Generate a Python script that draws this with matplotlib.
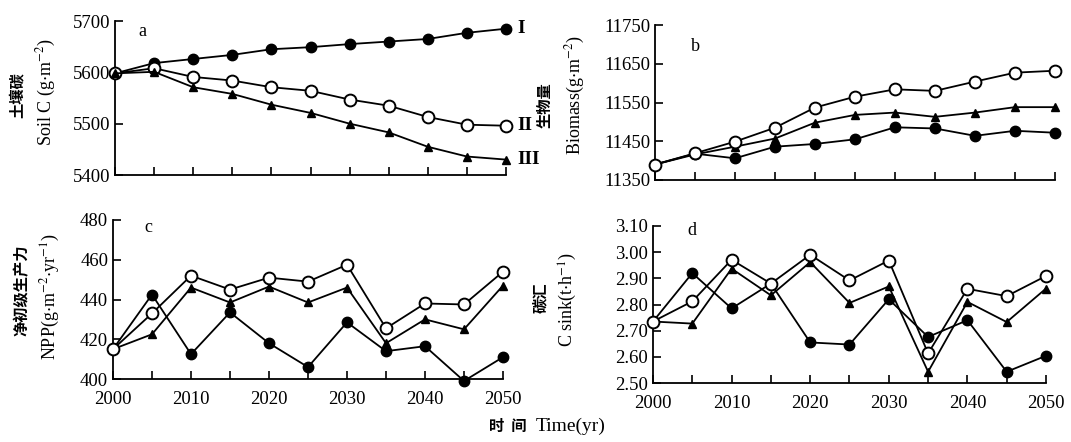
import matplotlib
matplotlib.use("Agg")
import matplotlib.pyplot as plt
from matplotlib.ticker import MultipleLocator, FormatStrFormatter

plt.rcParams['font.family'] = ['Liberation Serif', 'Noto Sans CJK SC']
plt.rcParams['mathtext.fontset'] = 'stix'

years = [2000, 2005, 2010, 2015, 2020, 2025, 2030, 2035, 2040, 2045, 2050]

# a: soil carbon (g m-2)
soil_I = [5598, 5618, 5626, 5634, 5645, 5649, 5655, 5660, 5665, 5677, 5685]
soil_II = [5598, 5608, 5591, 5584, 5571, 5564, 5547, 5535, 5513, 5498, 5496]
soil_III = [5598, 5601, 5571, 5558, 5537, 5521, 5500, 5483, 5455, 5436, 5430]

# b: biomass (g m-2)
bio_filled = [11390, 11418, 11406, 11436, 11443, 11455, 11486, 11483, 11464, 11477, 11472]
bio_open = [11390, 11419, 11449, 11485, 11537, 11565, 11584, 11580, 11604, 11627, 11632]
bio_tri = [11390, 11416, 11436, 11457, 11498, 11518, 11524, 11513, 11524, 11538, 11538]

# c: NPP (g m-2 yr-1)
npp_filled = [415, 442.5, 412.5, 433.5, 418, 406, 428.5, 414, 416.5, 399, 411]
npp_open = [415, 433, 452, 445, 451, 449, 457.5, 425.5, 438, 437.5, 454]
npp_tri = [415, 422.5, 446, 438.5, 446.5, 438.5, 446, 418, 430, 425, 447]

# d: carbon sink (t h-1)
sink_filled = [2.735, 2.92, 2.785, 2.88, 2.655, 2.647, 2.82, 2.676, 2.74, 2.543, 2.604]
sink_open = [2.735, 2.812, 2.971, 2.88, 2.99, 2.892, 2.968, 2.613, 2.86, 2.832, 2.909]
sink_tri = [2.735, 2.727, 2.937, 2.835, 2.962, 2.806, 2.869, 2.543, 2.81, 2.733, 2.861]

W, H = 1071, 442
fig = plt.figure(figsize=(W / 100, H / 100), dpi=100)


def add_ax(l, r, t, b):
    return fig.add_axes([l / W, 1 - b / H, (r - l) / W, (b - t) / H])


def style(ax, ylim, ystep, yoffset, fmt, xlabels):
    ax.set_xlim(2000, 2050)
    ax.set_ylim(*ylim)
    for s in ['top', 'right']:
        ax.spines[s].set_visible(False)
    for s in ['left', 'bottom']:
        ax.spines[s].set_linewidth(1.3)
    ax.xaxis.set_major_locator(MultipleLocator(10))
    ax.xaxis.set_minor_locator(MultipleLocator(5))
    ax.yaxis.set_major_locator(MultipleLocator(ystep, offset=yoffset))
    ax.yaxis.set_major_formatter(FormatStrFormatter(fmt))
    ax.tick_params(which='both', direction='in', width=1.2, labelsize=13.5)
    ax.tick_params(which='both', length=6)
    ax.tick_params(axis='x', pad=9)
    ax.tick_params(axis='y', which='minor', left=False)
    if not xlabels:
        ax.tick_params(axis='x', labelbottom=False)


def draw(ax, vals, kind):
    if kind == 'filled':
        ax.plot(years, vals, '-o', color='black', ms=7.5, lw=1.3, clip_on=False, zorder=3)
    elif kind == 'open':
        ax.plot(years, vals, '-o', color='black', mfc='white', mec='black', mew=1.4,
                ms=8.5, lw=1.3, clip_on=False, zorder=3)
    else:
        ax.plot(years, vals, '-^', color='black', ms=6, lw=1.3, clip_on=False, zorder=3)


ax_a = add_ax(115, 506, 21, 175)
ax_b = add_ax(655, 1055, 25, 180)
ax_c = add_ax(113, 503, 220, 379)
ax_d = add_ax(653, 1046, 226, 383)

style(ax_a, (5400, 5700), 100, 0, '%d', False)
style(ax_b, (11350, 11750), 100, 50, '%d', False)
style(ax_c, (400, 480), 20, 0, '%d', True)
style(ax_d, (2.50, 3.10), 0.10, 0, '%.2f', True)

draw(ax_a, soil_I, 'filled')
draw(ax_a, soil_II, 'open')
draw(ax_a, soil_III, 'tri')
for vals, lab in [(soil_I, 'I'), (soil_II, 'II'), (soil_III, 'III')]:
    ax_a.annotate(lab, xy=(years[-1], vals[-1]), xytext=(8, 0), textcoords='offset points',
                  va='center', ha='left', fontsize=14, fontweight='bold', annotation_clip=False)

draw(ax_b, bio_filled, 'filled')
draw(ax_b, bio_tri, 'tri')
draw(ax_b, bio_open, 'open')

draw(ax_c, npp_filled, 'filled')
draw(ax_c, npp_tri, 'tri')
draw(ax_c, npp_open, 'open')

draw(ax_d, sink_filled, 'filled')
draw(ax_d, sink_tri, 'tri')
draw(ax_d, sink_open, 'open')

# panel letters
for ax, letter, x, y in [(ax_a, 'a', 0.07, 0.93), (ax_b, 'b', 0.10, 0.86),
                         (ax_c, 'c', 0.09, 0.95), (ax_d, 'd', 0.10, 0.97)]:
    ax.text(x, y, letter, transform=ax.transAxes, fontsize=13, ha='center', va='center')

# y labels: Chinese line and English line
ylabels = [
    ('土壤碳', 18, 95, r'Soil C (g$\cdot$m$^{-2}$)', 46, 92),
    ('生物量', 545, 105, r'Biomass(g$\cdot$m$^{-2}$)', 575, 95),
    ('净初级生产力', 22, 290, r'NPP(g$\cdot$m$^{-2}$$\cdot$yr$^{-1}$)', 50, 297),
    ('碳汇', 540, 298, r'C sink(t$\cdot$h$^{-1}$)', 568, 300),
]
for zh, zx, zy, en, ex, ey in ylabels:
    fig.text(zx / W, 1 - zy / H, zh, rotation=90, ha='center', va='center',
             fontsize=11, fontweight='bold', family=['Noto Sans CJK SC'])
    fig.text(ex / W, 1 - ey / H, en, rotation=90, ha='center', va='center', fontsize=13)

# x label: Chinese part and English part
fig.text(508 / W, 1 - 426 / H, '时  间', ha='center', va='center', fontsize=11,
         fontweight='bold', family=['Noto Sans CJK SC'])
fig.text(536 / W, 1 - 426 / H, 'Time(yr)', ha='left', va='center', fontsize=14)

fig.savefig('out.png', dpi=100)
